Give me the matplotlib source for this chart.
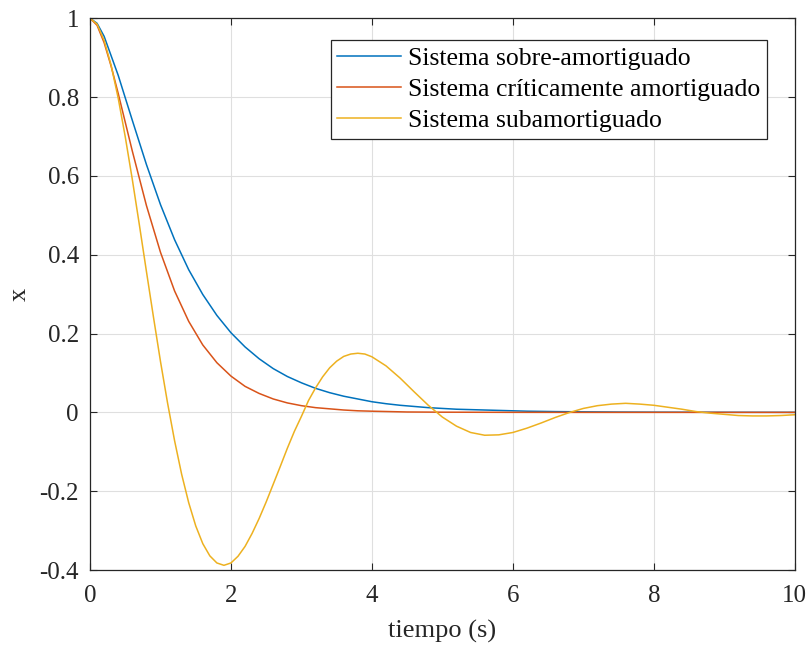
import matplotlib
matplotlib.use("Agg")
import matplotlib.pyplot as plt

plt.rc('font', family='serif')
plt.rc('font', serif=['Liberation Serif', 'DejaVu Serif'])

# valores
t_sobre = [0, 0.1, 0.2, 0.4, 0.6, 0.8, 1.0, 1.2, 1.4, 1.6, 1.8, 2.0, 2.2, 2.4, 2.6, 2.8,
           3.0, 3.2, 3.4, 3.6, 3.8, 4.0, 4.2, 4.4, 4.6, 4.8, 5.0, 5.2, 5.4, 5.6, 5.8,
           6.0, 6.2, 6.4, 6.6, 6.8, 7.0, 7.5, 8.0, 9.0, 10.0]
x_sobre = [1.000, 0.987, 0.954, 0.855, 0.741, 0.629, 0.527, 0.438, 0.362, 0.299, 0.246,
           0.202, 0.166, 0.136, 0.111, 0.091, 0.075, 0.061, 0.050, 0.041, 0.034, 0.027,
           0.022, 0.018, 0.015, 0.012, 0.010, 0.008, 0.007, 0.006, 0.005, 0.004, 0.003,
           0.0025, 0.002, 0.0017, 0.0014, 0.0008, 0.0005, 0.0002, 0.0001]

t_crit = [0, 0.1, 0.2, 0.3, 0.4, 0.6, 0.8, 1.0, 1.2, 1.4, 1.6, 1.8, 2.0, 2.2, 2.4, 2.6,
          2.8, 3.0, 3.2, 3.4, 3.6, 3.8, 4.0, 4.5, 5.0, 6.0, 7.0, 8.0, 9.0, 10.0]
x_crit = [1.000, 0.982, 0.938, 0.878, 0.809, 0.663, 0.525, 0.406, 0.308, 0.231, 0.171,
          0.126, 0.092, 0.066, 0.048, 0.034, 0.024, 0.017, 0.012, 0.009, 0.006, 0.004,
          0.003, 0.001, 0.0005, 0.0001, 0, 0, 0, 0]

t_sub = [0, 0.1, 0.2, 0.3, 0.4, 0.5, 0.6, 0.7, 0.8, 0.9, 1.0, 1.1, 1.2, 1.3, 1.4, 1.5,
         1.6, 1.7, 1.8, 1.9, 2.0, 2.1, 2.2, 2.3, 2.4, 2.5, 2.6, 2.7, 2.8, 2.9, 3.0,
         3.1, 3.2, 3.3, 3.4, 3.5, 3.6, 3.7, 3.8, 3.9, 4.0, 4.2, 4.4, 4.6, 4.8, 5.0,
         5.2, 5.4, 5.6, 5.8, 6.0, 6.2, 6.4, 6.6, 6.8, 7.0, 7.2, 7.4, 7.6, 7.8, 8.0,
         8.2, 8.4, 8.6, 8.8, 9.0, 9.2, 9.4, 9.6, 9.8, 10.0]
x_sub = [1.000, 0.985, 0.944, 0.880, 0.797, 0.699, 0.591, 0.476, 0.358, 0.242, 0.129,
         0.024, -0.072, -0.157, -0.229, -0.288, -0.333, -0.364, -0.382, -0.388, -0.382,
         -0.365, -0.340, -0.307, -0.269, -0.227, -0.182, -0.137, -0.091, -0.048, -0.010,
         0.030, 0.062, 0.090, 0.113, 0.130, 0.142, 0.148, 0.150, 0.148, 0.141, 0.118,
         0.087, 0.052, 0.018, -0.012, -0.035, -0.051, -0.058, -0.057, -0.051, -0.040,
         -0.027, -0.013, -0.0005, 0.010, 0.017, 0.021, 0.023, 0.021, 0.018, 0.013,
         0.008, 0.002, -0.002, -0.005, -0.008, -0.009, -0.009, -0.008, -0.006]

etiquetas = ['Sistema sobre-amortiguado', 'Sistema críticamente amortiguado',
             'Sistema subamortiguado']
colores = ['#0072BD', '#D95319', '#EDB120']

fig = plt.figure(figsize=(8.11, 6.5), dpi=100)
ax = fig.add_axes([0.111, 0.123, 0.869, 0.849])

ax.plot(t_sobre, x_sobre, color=colores[0], lw=1.1, label=etiquetas[0])
ax.plot(t_crit, x_crit, color=colores[1], lw=1.1, label=etiquetas[1])
ax.plot(t_sub, x_sub, color=colores[2], lw=1.1, label=etiquetas[2])

ax.set_xlim(0, 10)
ax.set_ylim(-0.4, 1)
ax.set_xticks([0, 2, 4, 6, 8, 10])
ax.set_yticks([-0.4, -0.2, 0, 0.2, 0.4, 0.6, 0.8, 1])
ax.set_yticklabels(['-0.4', '-0.2', '0', '0.2', '0.4', '0.6', '0.8', '1'])
ax.grid(True, color='#dfdfdf', lw=0.8)
ax.set_axisbelow(True)
ax.tick_params(direction='in', length=5, width=0.8, colors='#262626',
               labelsize=18, top=True, right=True, pad=8)
ax.tick_params(axis='x', pad=11)
for s in ax.spines.values():
    s.set_color('#262626')
    s.set_linewidth(0.9)

ax.set_xlabel('tiempo (s)', fontsize=19, color='#262626', labelpad=9)
ax.set_ylabel('x', fontsize=19, color='#262626', labelpad=6)

leg = ax.legend(loc='upper right', bbox_to_anchor=(0.960, 0.960), fontsize=18.5,
                fancybox=False, framealpha=1, edgecolor='#262626',
                handlelength=2.5, handletextpad=0.25, labelspacing=0.32,
                borderpad=0.25, borderaxespad=0)
leg.get_frame().set_linewidth(0.9)

fig.savefig('out.png', dpi=100)
